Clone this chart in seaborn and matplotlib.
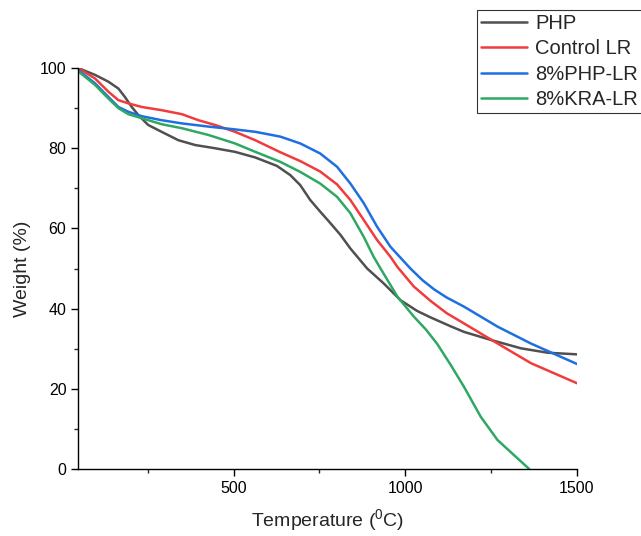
import pandas as pd
import matplotlib
matplotlib.use('Agg')
import matplotlib.pyplot as plt
import seaborn as sns
from matplotlib.ticker import MultipleLocator

# TGA curves
php_temp = [47, 96, 135, 164, 183, 203, 222, 251, 290, 339, 388, 446, 504, 563, 626, 665,
            694, 723, 752, 782, 811, 840, 889, 937, 986, 1035, 1074, 1132, 1171, 1249,
            1337, 1415, 1500]
php_weight = [100, 98.3, 96.6, 94.9, 92.8, 90.3, 88.3, 85.8, 84.1, 82.0, 80.8, 80.0, 79.1, 77.7,
              75.6, 73.3, 70.8, 67.1, 64.2, 61.3, 58.4, 55.0, 50.0, 46.3, 42.1, 39.4, 37.8,
              35.6, 34.2, 32.2, 30.1, 29.0, 28.6]

ctrl_temp = [47, 96, 135, 164, 193, 232, 290, 349, 397, 446, 504, 563, 636, 694, 752, 801,
             840, 879, 918, 957, 977, 1025, 1074, 1120, 1171, 1269, 1366, 1500]
ctrl_weight = [100, 97.4, 94.1, 92.0, 91.2, 90.3, 89.5, 88.5, 87.0, 85.8, 84.1, 82.0, 79.0,
               76.8, 74.2, 71.0, 67.1, 62.1, 57.1, 52.9, 50.4, 45.5, 41.9, 38.9, 36.3, 31.3,
               26.4, 21.4]

php_lr_temp = [47, 96, 135, 164, 193, 232, 290, 349, 427, 504, 563, 636, 694, 752, 801, 840,
               879, 918, 957, 1015, 1050, 1084, 1120, 1171, 1269, 1366, 1500]
php_lr_weight = [99.5, 96.2, 92.8, 90.3, 89.1, 88.0, 87.0, 86.2, 85.4, 84.7, 84.1, 82.9, 81.2,
                 78.7, 75.4, 71.2, 66.3, 60.4, 55.4, 50.0, 47.1, 44.8, 42.8, 40.5, 35.5, 31.3,
                 26.2]

kra_lr_temp = [47, 96, 135, 164, 193, 232, 290, 349, 427, 504, 563, 636, 694, 752, 801, 840,
               879, 908, 928, 977, 1025, 1060, 1093, 1132, 1171, 1220, 1269, 1361]
kra_lr_weight = [99.2, 95.8, 92.4, 90.0, 88.5, 87.5, 86.0, 85.0, 83.3, 81.2, 79.1, 76.6, 74.1,
                 71.2, 67.9, 63.8, 57.9, 52.9, 50.0, 43.0, 38.0, 34.8, 31.2, 26.0, 20.5, 13.0,
                 7.2, 0]

labels = ['PHP', 'Control LR', '8%PHP-LR', '8%KRA-LR']
colors = ['#505050', '#f03c3c', '#1f6fe0', '#2ea862']

sns.set_style('ticks')
plt.rcParams['font.family'] = ['Liberation Sans', 'DejaVu Sans']
plt.rcParams['mathtext.default'] = 'regular'

fig = plt.figure(figsize=(6.41, 5.36), dpi=100)
ax = fig.add_axes([0.122, 0.125, 0.778, 0.748])

series = [(php_temp, php_weight), (ctrl_temp, ctrl_weight),
          (php_lr_temp, php_lr_weight), (kra_lr_temp, kra_lr_weight)]
for (t, w), lab, c in zip(series, labels, colors):
    df = pd.DataFrame({'T': t, 'W': w})
    sns.lineplot(data=df, x='T', y='W', ax=ax, color=c, linewidth=1.8, label=lab, sort=False)

ax.set_xlim(47, 1500)
ax.set_ylim(0, 100)
ax.xaxis.set_major_locator(MultipleLocator(500))
ax.xaxis.set_minor_locator(MultipleLocator(250))
ax.yaxis.set_major_locator(MultipleLocator(20))
ax.yaxis.set_minor_locator(MultipleLocator(10))
ax.tick_params(which='major', length=5, width=1, labelsize=11.5, colors='black')
ax.tick_params(which='minor', length=3, width=1)
for s in ['top', 'right']:
    ax.spines[s].set_visible(False)
for s in ['left', 'bottom']:
    ax.spines[s].set_color('black')
    ax.spines[s].set_linewidth(1)

ax.set_xlabel('Temperature ($^{0}$C)', fontsize=14, labelpad=8)
ax.set_ylabel('Weight (%)', fontsize=14, labelpad=6)

leg = ax.legend(loc='upper left', bbox_to_anchor=(477 / 641, 1 - 10 / 536),
                bbox_transform=fig.transFigure, fontsize=14.5, frameon=True,
                fancybox=False, edgecolor='black', handlelength=2.3,
                borderpad=0.2, labelspacing=0.32, handletextpad=0.4, borderaxespad=0)
leg.get_frame().set_linewidth(0.8)

fig.savefig('out.png', dpi=100)
